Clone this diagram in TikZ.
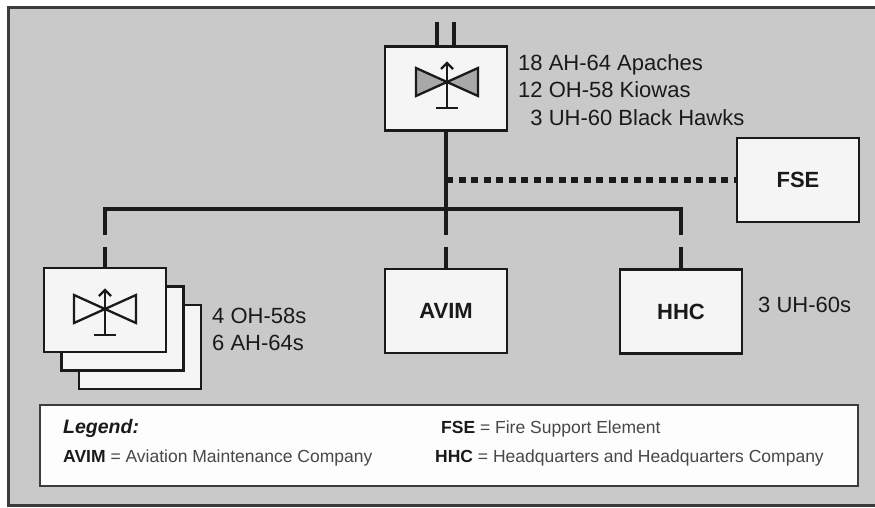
\documentclass[tikz,border=0pt]{standalone}
\usepackage{fontspec}
\setmainfont{Liberation Sans}
\usetikzlibrary{calc}

\definecolor{panel}{HTML}{C9C9C9}
\definecolor{frame}{HTML}{3C3C3C}
\definecolor{ink}{HTML}{1A1A1A}
\definecolor{boxfill}{HTML}{F5F5F5}
\definecolor{rotor}{HTML}{A8A8A8}

\tikzset{
  unit/.style={draw=ink, line width=2.6pt, fill=boxfill, minimum width=122pt, minimum height=84pt, inner sep=0pt, font=\fontsize{22}{26}\selectfont\bfseries, text=ink},
  link/.style={draw=ink, line width=4.5pt},
  support/.style={draw=ink, line width=5.5pt, dash pattern=on 7pt off 5.5pt},
  count/.style={anchor=base west, inner sep=0pt, font=\fontsize{22}{26}\selectfont, text=ink},
  key/.style={anchor=base west, inner sep=0pt, font=\fontsize{17.5}{21}\selectfont, text=black!72},
  pics/helo/.style={code={
    \draw[line width=2.3pt, draw=ink, fill=#1] (-31,-14) -- (31,14) -- (31,-14) -- (-31,14) -- cycle;
    \draw[line width=2.3pt, draw=ink] (0,-19) -- (0,26) (-11,26) -- (11,26);
    \draw[line width=2.3pt, draw=ink] (-6,-13) -- (0,-19) -- (6,-13);
    \fill[ink] (0,0) circle (2.3);
  }}
}

\begin{document}
\begin{tikzpicture}[x=1pt, y=-1pt]

\useasboundingbox (0,0) rectangle (875,508);
\fill[white] (0,0) rectangle (875,508);

% panel
\draw[draw=frame, line width=3pt, fill=panel] (8.5,7.5) rectangle (890,505);

% brigade and its units
\node[unit] (bde) at (446,88.5) {};
\pic at ($(bde)+(1,-6.5)$) {helo=rotor};

\node[unit] (fse) at (798,180) {FSE};

\node[unit] (troopC) at (140,347) {};
\node[unit] (troopB) at (122.5,328.5) {};
\node[unit] (troopA) at (105,310) {};
\pic at ($(troopA)+(0,-1)$) {helo=boxfill};

\node[unit] (avim) at ($(bde)+(0,222.5)$) {AVIM};

\node[unit] (hhc) at (681,311.5) {HHC};

% aircraft
\node[count] (apaches) at (518,71) {18 AH-64 Apaches};
\node[count] (kiowas) at (518,98) {12 OH-58 Kiowas};
\node[count] (hawks) at (518,126) {\phantom{1}3 UH-60 Black Hawks};

\node[count] (oh58) at (212,323) {4 OH-58s};
\node[count] (ah64) at (212,350) {6 AH-64s};

\node[count] (uh60) at (758,312) {3 UH-60s};

% connectors
\coordinate (feedA) at (437,22);
\coordinate (feedB) at (454,22);
\coordinate (bus) at ($(bde.south)+(0,77)$);

\draw[link] (feedA) -- (feedA |- bde.north);
\draw[link] (feedB) -- (feedB |- bde.north);

\draw[link] (bde.south) -- (avim.north);
\draw[link] (troopA.north) |- (bus) -| (hhc.north);
\draw[support] (bde.south |- fse.west) -- (fse.west);

% scan band
\fill[panel] (90,235) rectangle (700,247);

% legend
\node[draw=frame, line width=1.6pt, fill=white!96!panel, minimum width=818pt, minimum height=81pt] (legend) at (449,445.5) {};

\node[key, font=\fontsize{19.5}{23}\selectfont\bfseries\itshape, text=ink] (legtitle) at (63,433) {Legend:};
\node[key] (legavim) at (63,462) {\textcolor{ink}{\bfseries AVIM} = Aviation Maintenance Company};
\node[key] (legfse) at (441,433) {\textcolor{ink}{\bfseries FSE} = Fire Support Element};
\node[key] (leghhc) at (435,462) {\textcolor{ink}{\bfseries HHC} = Headquarters and Headquarters Company};

\end{tikzpicture}
\end{document}
